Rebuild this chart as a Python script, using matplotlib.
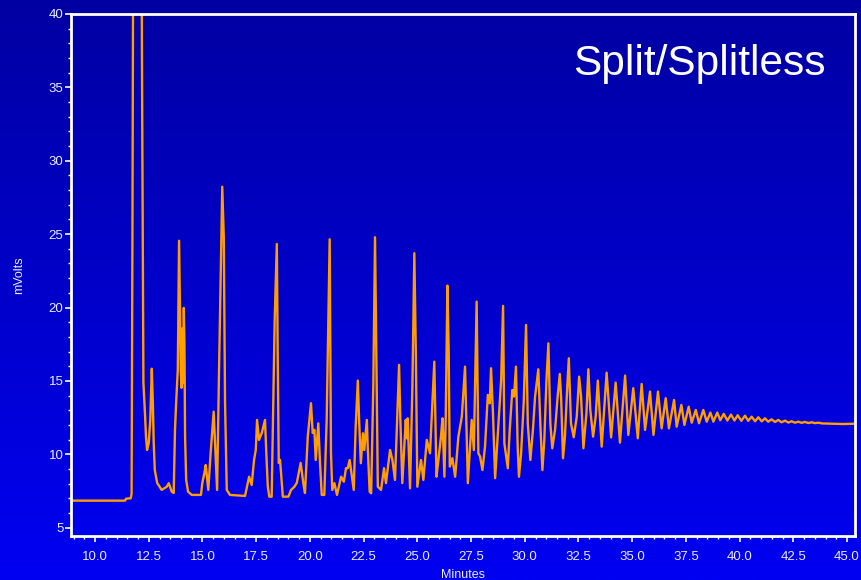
import numpy as np
import matplotlib
matplotlib.use("Agg")
import matplotlib.pyplot as plt
from matplotlib.ticker import MultipleLocator, FormatStrFormatter
from matplotlib.colors import LinearSegmentedColormap

plt.rcParams['font.family'] = ['Liberation Sans', 'DejaVu Sans']

# Detector trace: retention time (min) and signal (mV)
minutes = [
    8.85, 11.40, 11.44, 11.66, 11.70, 11.74, 11.78, 11.97, 12.16, 12.18, 12.25,
    12.33, 12.37, 12.42, 12.50, 12.57, 12.64, 12.69, 12.73, 12.78, 12.89, 13.10,
    13.34, 13.43, 13.57, 13.66, 13.72, 13.78, 13.85, 13.91, 13.99, 14.02, 14.08,
    14.10, 14.13, 14.16, 14.19, 14.24, 14.33, 14.50, 14.93, 14.99, 15.09, 15.15,
    15.27, 15.38, 15.52, 15.68, 15.77, 15.92, 15.99, 16.05, 16.13, 16.28, 16.98,
    17.17, 17.29, 17.40, 17.48, 17.54, 17.63, 17.76, 17.91, 17.97, 18.04, 18.11,
    18.22, 18.28, 18.36, 18.46, 18.50, 18.55, 18.61, 18.74, 19.00, 19.12, 19.28,
    19.39, 19.57, 19.69, 19.77, 19.90, 20.05, 20.13, 20.21, 20.27, 20.39, 20.47,
    20.55, 20.67, 20.78, 20.92, 20.98, 21.04, 21.14, 21.26, 21.45, 21.58, 21.68,
    21.76, 21.85, 22.04, 22.13, 22.23, 22.29, 22.37, 22.47, 22.53, 22.65, 22.69,
    22.78, 22.85, 22.95, 23.03, 23.09, 23.16, 23.31, 23.45, 23.54, 23.73, 23.84,
    23.96, 24.06, 24.15, 24.21, 24.30, 24.46, 24.51, 24.55, 24.66, 24.77, 24.86,
    24.93, 25.00, 25.17, 25.28, 25.44, 25.59, 25.79, 25.89, 25.98, 26.10, 26.17,
    26.26, 26.32, 26.40, 26.46, 26.51, 26.63, 26.76, 26.91, 27.07, 27.22, 27.35,
    27.53, 27.63, 27.76, 27.84, 27.92, 28.03, 28.15, 28.28, 28.37, 28.43, 28.52,
    28.62, 28.71, 28.80, 28.90, 28.99, 29.05, 29.21, 29.30, 29.42, 29.50, 29.59,
    29.67, 29.73, 29.83, 29.95, 30.06, 30.14, 30.26, 30.38, 30.48, 30.57, 30.63,
    30.73, 30.82, 30.91, 31.01, 31.10, 31.19, 31.28, 31.41, 31.53, 31.63, 31.69,
    31.78, 31.87, 31.97, 32.05, 32.15, 32.28, 32.42, 32.53, 32.62, 32.73, 32.87,
    32.96, 33.05, 33.18, 33.30, 33.40, 33.58, 33.81, 34.02, 34.23, 34.43, 34.67,
    34.82, 35.05, 35.26, 35.44, 35.60, 35.83, 35.99, 36.20, 36.37, 36.56, 36.71,
    36.95, 37.07, 37.29, 37.43, 37.63, 37.77, 37.96, 38.11, 38.31, 38.47, 38.64,
    38.78, 38.96, 39.10, 39.26, 39.43, 39.60, 39.76, 39.91, 40.08, 40.25, 40.40,
    40.56, 40.72, 40.87, 41.03, 41.18, 41.33, 41.49, 41.65, 41.80, 41.95, 42.11,
    42.27, 42.42, 42.58, 42.73, 42.88, 43.04, 43.20, 43.36, 43.50, 43.66, 43.85,
    44.30, 44.80, 45.37,
]
mvolts = [
    6.84, 6.84, 6.97, 7.00, 7.30, 25.0, 48.0, 95.0, 48.0, 38.0, 14.9,
    12.56, 11.20, 10.29, 10.77, 12.34, 15.83, 13.50, 10.77, 8.93, 8.05, 7.57,
    7.79, 8.03, 7.45, 7.36, 11.66, 13.70, 15.74, 24.55, 15.74, 14.52, 18.60,
    14.86, 19.97, 17.58, 11.18, 8.25, 7.45, 7.23, 7.23, 8.03, 8.73, 9.27,
    7.57, 10.09, 12.90, 7.57, 15.74, 28.23, 24.83, 13.50, 7.57, 7.23, 7.16,
    8.47, 7.91, 9.61, 10.29, 12.34, 10.98, 11.45, 12.34, 10.09, 7.79, 7.11,
    7.11, 12.34, 19.15, 24.33, 16.90, 9.41, 9.61, 7.11, 7.11, 7.57, 7.79,
    8.05, 9.41, 8.05, 7.36, 11.20, 13.48, 11.45, 11.66, 9.61, 12.11, 9.41,
    7.23, 7.23, 12.34, 24.65, 10.09, 7.57, 8.03, 7.23, 8.47, 8.13, 9.05,
    9.05, 9.61, 7.57, 11.88, 15.02, 12.34, 9.39, 11.43, 10.29, 12.34, 10.52,
    7.45, 7.34, 14.61, 24.79, 16.88, 7.79, 7.57, 9.05, 8.03, 10.29, 9.61,
    8.25, 12.34, 16.09, 12.34, 8.03, 12.34, 11.09, 12.45, 7.68, 14.61, 23.70,
    16.88, 7.79, 9.61, 8.25, 10.98, 10.07, 16.31, 8.47, 9.61, 11.20, 12.45,
    8.47, 12.34, 21.49, 16.88, 9.16, 9.73, 8.47, 11.20, 12.56, 15.97, 8.03,
    12.34, 10.29, 20.40, 10.07, 9.84, 8.93, 10.52, 14.04, 13.47, 15.86, 12.79,
    8.37, 10.52, 12.56, 15.07, 20.11, 10.75, 9.05, 11.66, 14.38, 13.93, 15.97,
    10.52, 8.47, 10.07, 13.48, 18.81, 12.11, 9.61, 11.66, 13.93, 15.07, 15.79,
    11.88, 8.93, 10.98, 15.07, 17.56, 12.11, 10.41, 11.66, 13.93, 15.47, 13.93,
    9.73, 11.20, 14.38, 16.54, 12.11, 11.16, 12.56, 15.29, 13.93, 10.41, 12.79,
    15.79, 13.02, 11.20, 12.56, 15.02, 10.52, 15.56, 11.15, 14.88, 10.79, 15.36,
    11.32, 14.50, 11.09, 14.79, 11.66, 14.27, 11.32, 14.27, 11.77, 13.82, 11.77,
    13.70, 11.88, 13.36, 12.00, 13.24, 12.15, 13.02, 12.11, 13.02, 12.22, 12.84,
    12.22, 12.84, 12.32, 12.75, 12.30, 12.70, 12.30, 12.66, 12.28, 12.63, 12.28,
    12.56, 12.25, 12.52, 12.24, 12.45, 12.22, 12.38, 12.20, 12.34, 12.18, 12.29,
    12.16, 12.25, 12.15, 12.22, 12.14, 12.20, 12.13, 12.18, 12.12, 12.15, 12.10,
    12.08, 12.06, 12.08,
]

x_major = [10.0, 12.5, 15.0, 17.5, 20.0, 22.5, 25.0, 27.5, 30.0, 32.5,
           35.0, 37.5, 40.0, 42.5, 45.0]
y_major = [5, 10, 15, 20, 25, 30, 35, 40]

title_text = "Split/Splitless"
x_label = "Minutes"
y_label = "mVolts"

fig = plt.figure(figsize=(8.61, 5.80), dpi=100)

# Vertical blue gradient behind everything
bg = fig.add_axes([0, 0, 1, 1], zorder=-10)
blue_ramp = LinearSegmentedColormap.from_list("blue_ramp", ["#0000F2", "#0000A2"])
bg.imshow(np.linspace(0, 1, 256).reshape(-1, 1), aspect="auto", cmap=blue_ramp,
          origin="lower", extent=[0, 1, 0, 1])
bg.set_axis_off()

ax = fig.add_axes([71 / 861, 1 - 536 / 580, (855 - 71) / 861, (536 - 14) / 580])
ax.set_facecolor("none")
ax.plot(minutes, mvolts, color="#FF9E00", lw=1.7, solid_joinstyle="round")

ax.set_xlim(8.88, 45.37)
ax.set_ylim(4.43, 40)
ax.set_xticks(x_major)
ax.set_yticks(y_major)
ax.xaxis.set_major_formatter(FormatStrFormatter("%.1f"))
ax.xaxis.set_minor_locator(MultipleLocator(0.5))
ax.yaxis.set_minor_locator(MultipleLocator(1))

for s in ax.spines.values():
    s.set_color("white")
    s.set_linewidth(2.0)

ax.tick_params(which="major", direction="out", length=4, width=1.2,
               colors="white", labelsize=9.5)
ax.tick_params(axis="x", which="major", pad=7)
ax.tick_params(axis="y", which="major", pad=1.5)
ax.tick_params(which="minor", direction="out", length=2.5, width=1.0,
               colors="white")
for lbl in ax.get_xticklabels() + ax.get_yticklabels():
    lbl.set_color("#EDEDFF")

ax.set_xlabel(x_label, color="#EDEDFF", fontsize=9, labelpad=4)
ax.set_ylabel(y_label, color="#EDEDFF", fontsize=9, labelpad=17)

ax.text(0.963, 0.905, title_text, transform=ax.transAxes, ha="right",
        va="center", color="white", fontsize=30.5)

fig.savefig("out.png", dpi=100)
